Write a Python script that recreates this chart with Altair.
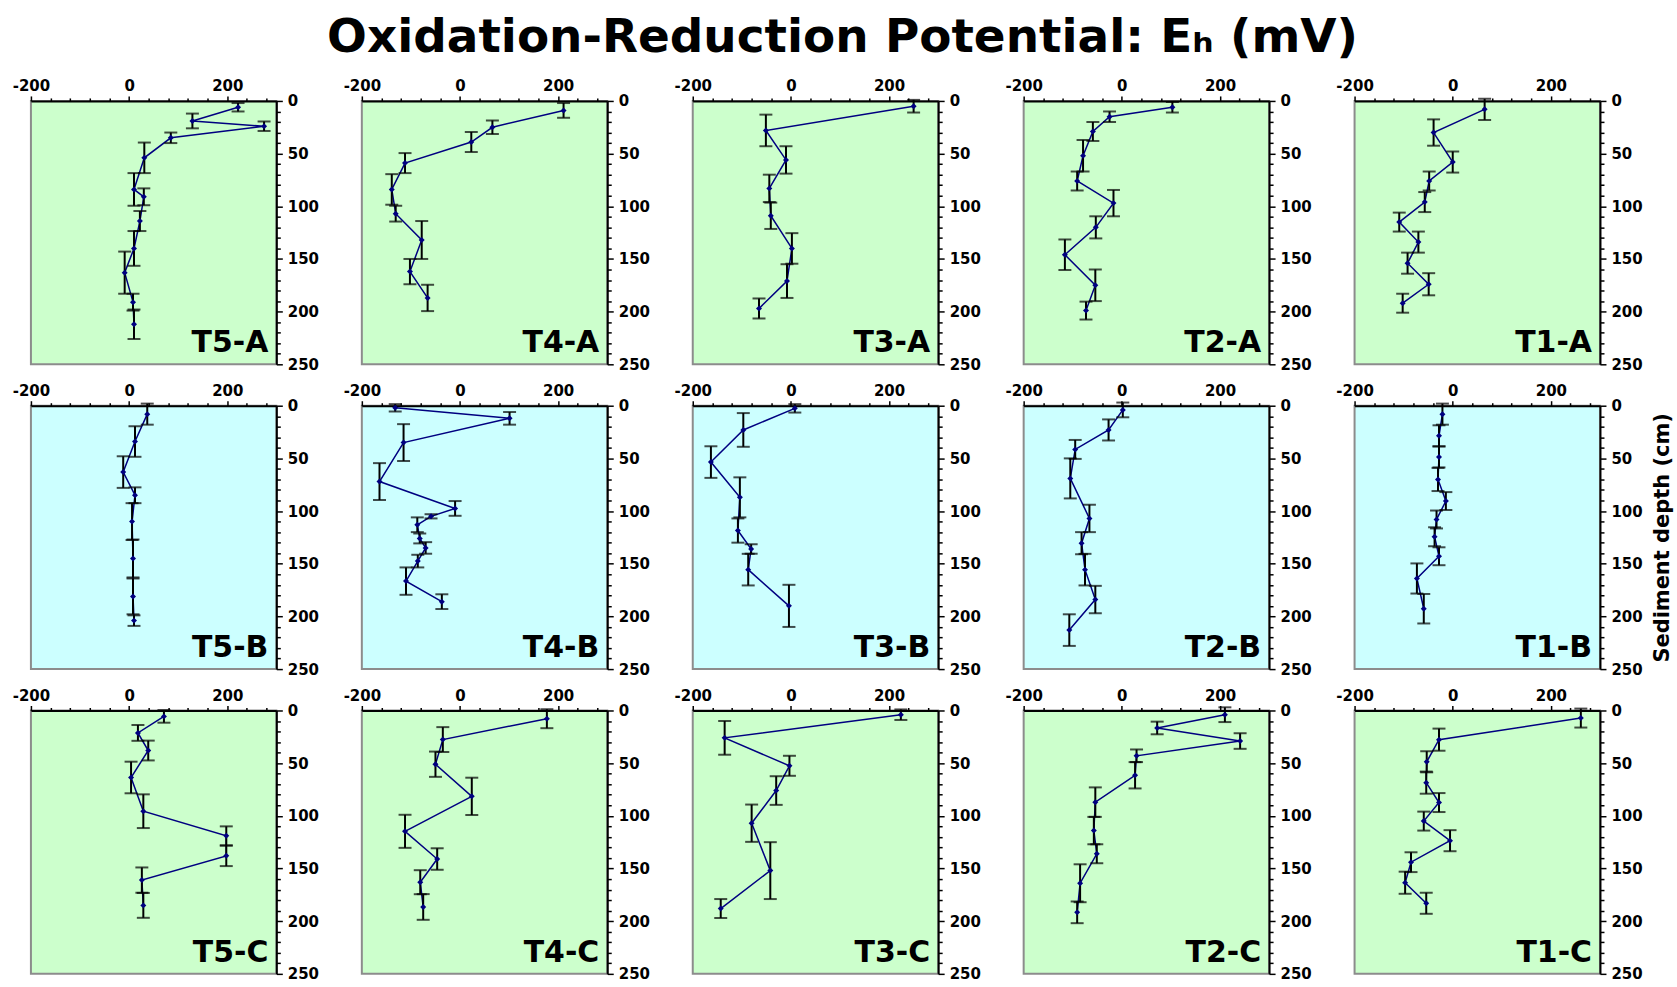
import altair as alt
import pandas as pd

# ---------------- data ----------------
T5A_DEPTH = [6, 19, 24, 35, 54, 84, 91, 114, 140, 163, 191, 212]
T5A_EH = [222, 129, 275, 85, 31, 10, 30, 22, 10, -9, 8, 10]
T5A_ERR = [4, 7, 4.5, 5, 14.5, 15.5, 8, 9.5, 16.5, 20, 8, 14]

T4A_DEPTH = [9, 25, 39, 59, 84, 107, 132, 162, 187]
T4A_EH = [211, 66, 23, -112, -139, -131, -78, -102, -66]
T4A_ERR = [7, 6.5, 9.5, 9.5, 14.5, 7.5, 18, 12, 12.5]

T3A_DEPTH = [5, 28, 56, 83, 109, 140, 171, 197]
T3A_EH = [250, -51, -10, -44, -41, 2, -8, -65]
T3A_ERR = [6, 15, 13, 13, 12.5, 14.5, 16, 9.5]

T2A_DEPTH = [6, 15, 29, 52, 76, 97, 120, 146, 175, 199]
T2A_EH = [103, -25, -59, -79, -91, -17, -53, -116, -54, -73]
T2A_ERR = [5, 5, 9, 15, 9, 12.5, 10.5, 14.5, 15, 8.5]

T1A_DEPTH = [8, 30, 58, 76, 96, 115, 134, 154, 174, 192]
T1A_EH = [65, -39, 0, -48, -57, -109, -70, -92, -49, -102]
T1A_ERR = [10, 12.5, 10, 9, 9.5, 9, 10, 10, 10.5, 9]

T5B_DEPTH = [8, 34, 63, 85, 110, 145, 181, 204]
T5B_EH = [37, 12, -12, 12, 6, 8, 8, 10]
T5B_ERR = [10, 14.5, 15, 7.5, 17.5, 18, 17, 5]

T4B_DEPTH = [2, 12, 35, 72, 97.5, 105, 113, 126, 135, 147.5, 166.5, 186]
T4B_EH = [-132, 101, -115, -164, -10, -59, -87, -82, -70, -86, -110, -37]
T4B_ERR = [3.5, 6, 17.5, 17.5, 7, 2, 7, 4.7, 5.5, 6, 13, 7]

T3B_DEPTH = [2.5, 23, 53.5, 87, 118.5, 136, 155.6, 190]
T3B_EH = [8, -97, -163, -104, -108, -81, -87, -4]
T3B_ERR = [4, 16, 15, 19, 11.5, 4.5, 15, 20]

T2B_DEPTH = [4, 23, 41.5, 69, 107, 130.5, 155.6, 184, 213]
T2B_EH = [2, -27, -95, -105, -66, -82, -75, -54, -107]
T2B_ERR = [7, 10, 9, 19, 13, 10.5, 15, 13, 15]

T1B_DEPTH = [8, 28.6, 48.6, 70, 90.5, 108, 124.4, 142.9, 164, 192.7]
T1B_EH = [-21, -28, -28, -30, -14, -33, -37, -28, -73, -59]
T1B_ERR = [10, 10, 10, 11, 8.5, 8.5, 9, 8.5, 14.3, 14]

T5C_DEPTH = [5.6, 21.3, 38, 63.6, 95.6, 119, 138, 161, 185]
T5C_EH = [71, 18, 39, 4, 29, 198, 198, 26, 29]
T5C_ERR = [6, 7.5, 9.4, 15, 16, 9, 9.7, 12, 11.8]

T4C_DEPTH = [7.8, 27.6, 51, 81.5, 114.7, 141, 163, 186.5]
T4C_EH = [177, -35, -50, 24, -112, -46.5, -81, -75]
T4C_ERR = [9, 11.8, 12, 17.7, 15.7, 10.2, 11.4, 12.2]

T3C_DEPTH = [4, 26, 52.5, 76, 107, 152, 188]
T3C_EH = [224, -135, -3, -30, -80, -42, -143]
T3C_ERR = [5, 16, 9.5, 13.6, 17.7, 27, 9]

T2C_DEPTH = [4, 16.6, 29, 43, 61.5, 87, 114, 136, 164, 191.6]
T2C_EH = [210, 72, 241, 30, 27, -54, -57, -51, -85, -91]
T2C_ERR = [7, 6, 7.4, 6, 12.5, 14, 13, 9, 18, 10.3]

T1C_DEPTH = [7.2, 27.7, 48.7, 68.5, 87.4, 105, 123.6, 144, 163.5, 183]
T1C_EH = [261, -28, -53, -54, -28, -59, -5.5, -85, -97, -54]
T1C_ERR = [9, 10.5, 10, 10.5, 9, 9, 10, 9.4, 10.5, 10]

PANELS = [
    ("T5-A", T5A_DEPTH, T5A_EH, T5A_ERR),
    ("T4-A", T4A_DEPTH, T4A_EH, T4A_ERR),
    ("T3-A", T3A_DEPTH, T3A_EH, T3A_ERR),
    ("T2-A", T2A_DEPTH, T2A_EH, T2A_ERR),
    ("T1-A", T1A_DEPTH, T1A_EH, T1A_ERR),
    ("T5-B", T5B_DEPTH, T5B_EH, T5B_ERR),
    ("T4-B", T4B_DEPTH, T4B_EH, T4B_ERR),
    ("T3-B", T3B_DEPTH, T3B_EH, T3B_ERR),
    ("T2-B", T2B_DEPTH, T2B_EH, T2B_ERR),
    ("T1-B", T1B_DEPTH, T1B_EH, T1B_ERR),
    ("T5-C", T5C_DEPTH, T5C_EH, T5C_ERR),
    ("T4-C", T4C_DEPTH, T4C_EH, T4C_ERR),
    ("T3-C", T3C_DEPTH, T3C_EH, T3C_ERR),
    ("T2-C", T2C_DEPTH, T2C_EH, T2C_ERR),
    ("T1-C", T1C_DEPTH, T1C_EH, T1C_ERR),
]

TITLE = "Oxidation-Reduction Potential: E\u2095 (mV)"
Y_TITLE = "Sediment depth (cm)"
X_TICKS = list(range(-200, 301, 40))
Y_TICKS = list(range(0, 251, 10))

# ---------------- styling ----------------
W, H = 246, 264
FONT = "DejaVu Sans"
GREEN = "#CCFFCC"
CYAN = "#CCFFFF"
NAVY = "#000080"


def panel(name, depth, eh, err):
    df = pd.DataFrame({"depth": depth, "eh": eh, "err": err})
    df["i"] = range(len(df))
    df["lo"] = df["depth"] - df["err"]
    df["hi"] = df["depth"] + df["err"]
    fill = CYAN if name.endswith("B") else GREEN
    show_title = name == "T1-B"

    xscale = alt.Scale(domain=[-200, 300], nice=False, zero=False)
    yscale = alt.Scale(domain=[0, 250], reverse=True, nice=False, zero=False)
    xaxis = alt.Axis(
        orient="top", values=X_TICKS, title=None,
        labelExpr="datum.value % 200 === 0 ? (datum.value < 0 ? '-' + abs(datum.value) : '' + datum.value) : ''",
        tickSize={"condition": {"test": "datum.value % 200 === 0", "value": 5}, "value": 3},
        labelPadding=2,
    )
    yaxis_kw = dict(
        orient="right", values=Y_TICKS,
        labelExpr="datum.value % 50 === 0 ? '' + datum.value : ''",
        tickSize={"condition": {"test": "datum.value % 50 === 0", "value": 6}, "value": 4},
        labelPadding=5,
    )
    if show_title:
        yaxis = alt.Axis(title=Y_TITLE, titleAngle=270, titleFontSize=21,
                         titleFont=FONT, titleFontWeight="bold", titleColor="black",
                         titleX=63, titleY=H / 2, titleAlign="center",
                         titleBaseline="middle", **yaxis_kw)
    else:
        yaxis = alt.Axis(title=None, **yaxis_kw)

    X = alt.X("eh:Q", scale=xscale, axis=xaxis)
    base = alt.Chart(df)

    line = base.mark_line(color=NAVY, strokeWidth=1.5).encode(
        x=X, y=alt.Y("depth:Q", scale=yscale, axis=yaxis), order="i:Q")
    rule = base.mark_rule(color="black", strokeWidth=2).encode(
        x=X, y=alt.Y("lo:Q", scale=yscale, axis=yaxis), y2="hi:Q")
    cap_lo = base.mark_tick(orient="horizontal", size=13, thickness=2, color="black").encode(
        x=X, y=alt.Y("lo:Q", scale=yscale, axis=yaxis))
    cap_hi = base.mark_tick(orient="horizontal", size=13, thickness=2, color="black").encode(
        x=X, y=alt.Y("hi:Q", scale=yscale, axis=yaxis))
    pts = base.mark_point(shape="diamond", filled=True, size=36, color=NAVY, opacity=1).encode(
        x=X, y=alt.Y("depth:Q", scale=yscale, axis=yaxis))
    label = alt.Chart(pd.DataFrame({"label": [name]})).mark_text(
        font=FONT, fontSize=30, fontWeight="bold", color="black",
        align="right", baseline="alphabetic",
    ).encode(x=alt.value(W - 8), y=alt.value(H - 12), text="label:N")

    return alt.layer(line, rule, cap_lo, cap_hi, pts, label).properties(
        width=W, height=H,
        view=alt.ViewBackground(fill=fill, stroke="#8c8c8c", strokeWidth=2),
    )


charts = [panel(*p) for p in PANELS]

chart = alt.concat(
    *charts, columns=5, bounds="flush",
    spacing={"row": 41.5, "column": 85.7},
).properties(
    title=alt.TitleParams(TITLE, font=FONT, fontSize=47, fontWeight="bold",
                          color="black", anchor="middle", offset=16),
    padding={"left": 11, "top": 13, "right": 3, "bottom": 3},
    background="white",
).configure_axis(
    labelFont=FONT, labelFontWeight="bold", labelFontSize=15, labelColor="black",
    domainColor="black", domainWidth=2, tickColor="black", tickWidth=1.5,
    grid=False, labelFlush=False, labelOverlap=False, labelBound=False,
)

chart.save("out.html", embed_options={"renderer": "svg", "actions": False})
